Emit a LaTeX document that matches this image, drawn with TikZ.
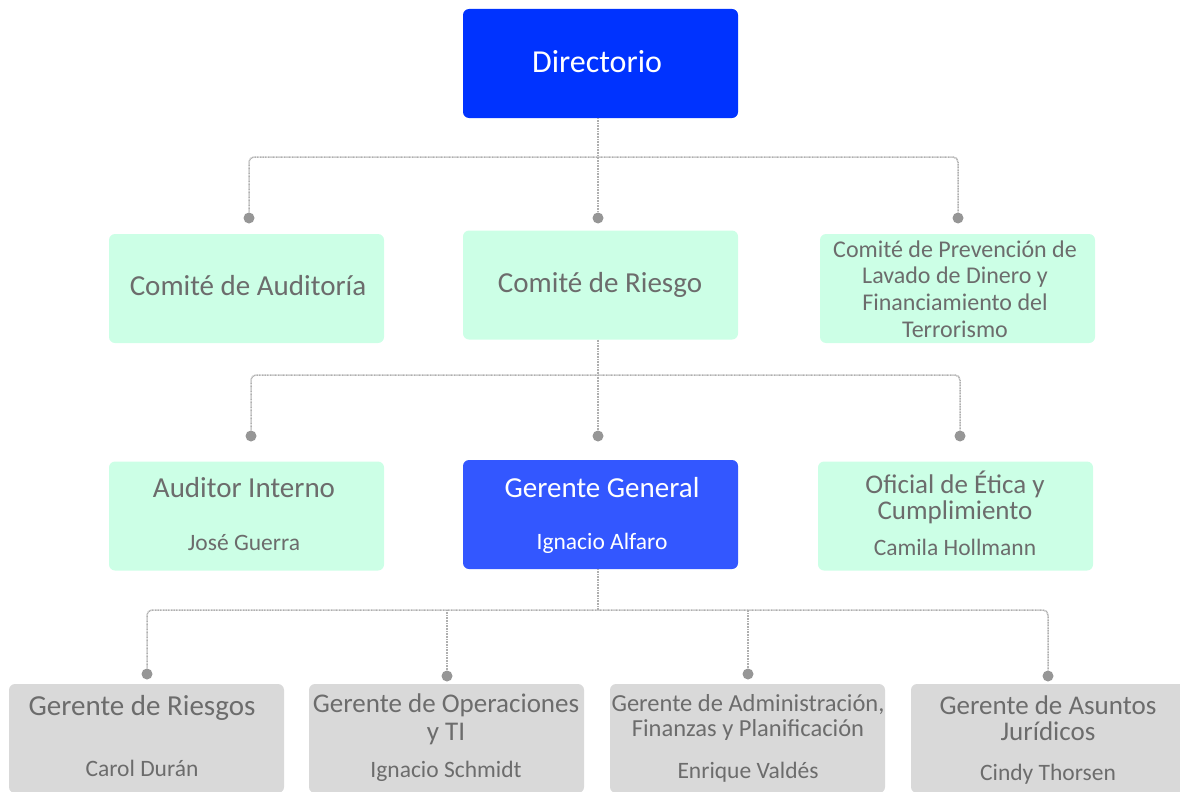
\documentclass[tikz,border=0pt]{standalone}
\usepackage{fontspec}
\setmainfont{Carlito}
\usetikzlibrary{positioning}

\definecolor{topblue}{RGB}{0,51,255}
\definecolor{midblue}{RGB}{51,87,255}
\definecolor{mint}{RGB}{204,255,230}
\definecolor{lightgrey}{RGB}{217,217,217}
\definecolor{textgrey}{RGB}{108,108,108}
\definecolor{linegrey}{RGB}{175,175,175}
\definecolor{dotgrey}{RGB}{150,150,150}

\begin{document}
\begin{tikzpicture}
[x=1pt, y=-1pt,
% STYLES
% The box style is used for every position of the chart
box/.style={rectangle, rounded corners=6pt, minimum width=275pt, minimum height=109pt, inner sep=0pt},
board/.style={box, fill=topblue},
committee/.style={box, fill=mint},
head/.style={box, fill=midblue},
manager/.style={box, fill=lightgrey},
% The title and person styles are used to write the texts inside the boxes
title/.style={inner sep=0pt, align=center, text=textgrey, font=\fontsize{29}{25}\selectfont},
person/.style={inner sep=0pt, align=center, text=textgrey, font=\fontsize{23.5}{28}\selectfont},
% The dot and link styles are used to draw the connectors
dot/.style={circle, fill=dotgrey, minimum size=11pt, inner sep=0pt},
link/.style={draw=linegrey, line width=1.5pt, dash pattern=on 1pt off 0.6pt, rounded corners=5pt}]

\clip (0,0) rectangle (1180,792);
\useasboundingbox (0,0) rectangle (1180,792);

% Draw boxes
\node [board] (directorio) at (600.5,63.5) {};
\node [committee] (auditoria) at (246.5,288.5) {};
\node [committee] (riesgo) at (600.5,285) {};
\node [committee] (prevencion) at (957.5,288.5) {};
\node [committee] (auditor) at (246.5,516) {};
\node [head] (general) at (600.5,514.5) {};
\node [committee] (etica) at (955.5,516) {};
\node [manager] (riesgos) at (146.5,738.5) {};
\node [manager] (operaciones) at (446.5,738.5) {};
\node [manager] (administracion) at (747.5,738.5) {};
\node [manager] (juridicos) at (1048.5,738.5) {};

% Texts
\node [title, text=white, font=\fontsize{32}{36}\selectfont] (directorio-t) at (597,62) {Directorio};
\node [title] (auditoria-t) at (248,286) {Comité de Auditoría};
\node [title] (riesgo-t) at (600,285) {Comité de Riesgo};
\node [title, font=\fontsize{24}{26.7}\selectfont] (prevencion-t) at (955,289) {Comité de Prevención de\\Lavado de Dinero y\\Financiamiento del\\Terrorismo};
\node [title] (auditor-t) at (244,488) {Auditor Interno};
\node [person] (auditor-p) at (244,543) {José Guerra};
\node [title, text=white] (general-t) at (602,488) {Gerente General};
\node [person, text=white] (general-p) at (602,543) {Ignacio Alfaro};
\node [title, font=\fontsize{27}{26}\selectfont] (etica-t) at (955,497) {Oficial de Ética y\\Cumplimiento};
\node [person] (etica-p) at (955,547) {Camila Hollmann};
\node [title] (riesgos-t) at (142,708) {Gerente de Riesgos};
\node [person] (riesgos-p) at (142,768) {Carol Durán};
\node [title, font=\fontsize{27}{28}\selectfont] (operaciones-t) at (446,719) {Gerente de Operaciones\\y TI};
\node [person] (operaciones-p) at (446,771) {Ignacio Schmidt};
\node [title, font=\fontsize{24.5}{25}\selectfont] (administracion-t) at (748,717) {Gerente de Administración,\\Finanzas y Planificación};
\node [person] (administracion-p) at (748,772) {Enrique Valdés};
\node [title, font=\fontsize{27}{26}\selectfont] (juridicos-t) at (1048,718) {Gerente de Asuntos\\Jurídicos};
\node [person] (juridicos-p) at (1048,774) {Cindy Thorsen};

% Draw dots
\node [dot] (d1a) at (249,218) {};
\node [dot] (d1b) at (598,218) {};
\node [dot] (d1c) at (958,218) {};
\node [dot] (d2a) at (251,436) {};
\node [dot] (d2b) at (598,436) {};
\node [dot] (d2c) at (960,436) {};
\node [dot] (d3a) at (147,674) {};
\node [dot] (d3b) at (447,676) {};
\node [dot] (d3c) at (748,674) {};
\node [dot] (d3d) at (1048,676) {};
\coordinate (bus1) at (598,157);
\coordinate (bus2) at (598,375);
\coordinate (bus3) at (598,610);

% Draw the links between boxes
\draw [link] (directorio.south -| d1b) -- (d1b);
\draw [link] (d1a) |- (bus1) -| (d1c);
\draw [link] (riesgo.south -| d2b) -- (d2b);
\draw [link] (d2a) |- (bus2) -| (d2c);
\draw [link] (general.south -| bus3) -- (bus3);
\draw [link] (d3a) |- (bus3) -| (d3d);
\draw [link] (d3b) -- (d3b |- bus3);
\draw [link] (d3c) -- (d3c |- bus3);

\end{tikzpicture}
\end{document}
